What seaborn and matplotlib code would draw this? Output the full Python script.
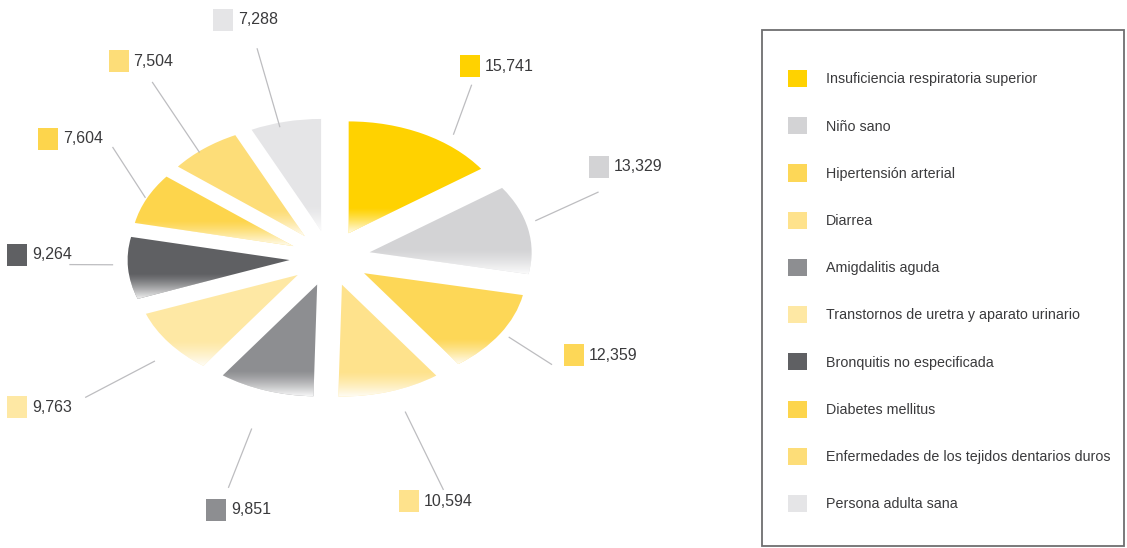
import numpy as np
import matplotlib
matplotlib.use("Agg")
import matplotlib.pyplot as plt
import seaborn as sns
from matplotlib.patches import Rectangle
from matplotlib.path import Path

# Consultas por causa
categories = [
    "Insuficiencia respiratoria superior",
    "Niño sano",
    "Hipertensión arterial",
    "Diarrea",
    "Amigdalitis aguda",
    "Transtornos de uretra y aparato urinario",
    "Bronquitis no especificada",
    "Diabetes mellitus",
    "Enfermedades de los tejidos dentarios duros",
    "Persona adulta sana",
]
values = [15741, 13329, 12359, 10594, 9851, 9763, 9264, 7604, 7504, 7288]
value_labels = ["15,741", "13,329", "12,359", "10,594", "9,851",
                "9,763", "9,264", "7,604", "7,504", "7,288"]
colors = ["#FFD200", "#D3D3D5", "#FDD757", "#FEE28C", "#8D8E91",
          "#FEE8A4", "#5F6063", "#FDD54C", "#FDDD78", "#E5E5E7"]

# label layout: distance from centre (in radii) and angular nudge (deg)
label_dist = [1.92, 1.85, 1.74, 2.23, 2.36, 2.35, 1.93, 2.04, 2.19, 2.23]
label_nudge = [0.7, 14.3, 2.9, -4.5, 1.2, -2.7, -5.0, -6.3, -1.9, 4.5]
# leader lines: start/end radius and angular offsets (deg) from the slice middle
line_r0 = [1.34, 1.31, 1.31, 1.45, 1.60, 1.42, 1.34, 1.26, 1.24, 1.21]
line_r1 = [1.78, 1.76, 1.67, 2.19, 2.15, 1.96, 1.61, 1.67, 1.92, 1.93]
line_a0 = [-7.2, 2.8, 0.2, 1.5, 0.9, 3.1, -1.6, -0.1, 2.0, 2.1]
line_a1 = [-2.0, 7.7, -2.0, 1.5, 1.5, 2.2, -2.1, -11.3, -3.6, 0.8]

sns.set_theme(style="white")
plt.rcParams["font.family"] = ["Liberation Sans", "DejaVu Sans"]

W, H, DPI = 1127, 548, 100
fig = plt.figure(figsize=(W / DPI, H / DPI), dpi=DPI)
ax = fig.add_axes([0, 0, 1, 1])

# pie geometry (pixels): centre and radius, vertical squash for the tilt
cx, cy, rpx, squash = 330, 258, 162, 0.69
explode = 0.25

wedges, _ = ax.pie(values, colors=colors, startangle=90, counterclock=False,
                   explode=[explode] * len(values), radius=1.0,
                   wedgeprops=dict(linewidth=0))

xpx = rpx
ypx = rpx * squash


def set_view():
    ax.set_aspect("auto")
    ax.set_xlim(-cx / xpx, (W - cx) / xpx)
    ax.set_ylim(-(H - cy) / ypx, cy / ypx)


set_view()
ax.axis("off")

# soft fade to white along the lower rim of every slice
fade_h = 0.23
grad = np.linspace(1, 0, 64) ** 1.3
rgba = np.ones((64, 2, 4))
rgba[..., 3] = (grad * 0.97)[:, None]
rgba = rgba[::-1]  # row 0 = top (transparent) when origin='upper'
for w in wedges:
    ext = w.get_path().get_extents()
    y0 = ext.y0
    im = ax.imshow(rgba, extent=(ext.x0 - 0.05, ext.x1 + 0.05, y0 - 0.01, y0 + fade_h),
                   aspect="auto", interpolation="bilinear", zorder=3)
    im.set_clip_path(w)
set_view()


def polar(r, deg):
    a = np.deg2rad(deg)
    return r * np.cos(a), r * np.sin(a)


# value labels with colour chips and leader lines
chip = Path([(-0.9, -1), (0.9, -1), (0.9, 1), (-0.9, 1), (-0.9, -1)],
            [Path.MOVETO, Path.LINETO, Path.LINETO, Path.LINETO, Path.CLOSEPOLY])
total = sum(values)
start = 90.0
for i, v in enumerate(values):
    sweep = 360.0 * v / total
    mid = start - sweep / 2
    start -= sweep
    lx, ly = polar(label_dist[i], mid + label_nudge[i])
    x0, y0 = polar(line_r0[i], mid + line_a0[i])
    x1, y1 = polar(line_r1[i], mid + line_a1[i])
    ax.plot([x0, x1], [y0, y1], color="#BDBDC0", lw=0.9, zorder=2,
            solid_capstyle="butt")
    ax.plot([lx], [ly], marker=chip, markersize=15.5, color=colors[i],
            markeredgewidth=0, linestyle="none", zorder=4)
    ax.annotate(value_labels[i], (lx, ly), xytext=(15, 0), textcoords="offset pixels",
                ha="left", va="center", fontsize=11.5, color="#3A3A3C", zorder=4)
set_view()

# legend box
ax.add_patch(Rectangle((762 / W, 1 - 546 / H), (1124 - 762) / W, (546 - 30) / H,
                       transform=fig.transFigure, fill=False, edgecolor="#6E6E70",
                       linewidth=1.3, zorder=1))
handles = [Rectangle((0, 0), 1, 1, facecolor=c, edgecolor="none") for c in colors]
leg = fig.legend(handles, categories, loc="upper left",
                 bbox_to_anchor=(788 / W, 1 - 70 / H), frameon=False,
                 fontsize=10.3, handlelength=1.33, handleheight=1.47,
                 handletextpad=1.3, labelspacing=2.1, borderpad=0,
                 borderaxespad=0)
for t in leg.get_texts():
    t.set_color("#3A3A3C")

fig.savefig("out.png", dpi=DPI)
